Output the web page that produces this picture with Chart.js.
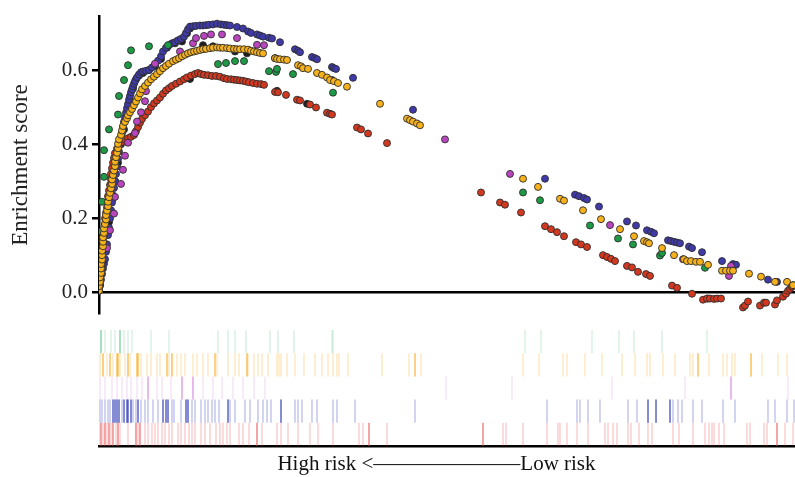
<!DOCTYPE html>
<html>
<head>
<meta charset="utf-8">
<script src="https://cdn.jsdelivr.net/npm/chart.js@4.4.1/dist/chart.umd.min.js"></script>
<style>
  html, body { margin: 0; padding: 0; background: #fff; }
  #wrap { position: relative; width: 795px; height: 477px; overflow: hidden; }
  #es { position: absolute; left: 0; top: 0; }
  #rug { position: absolute; left: 0; top: 315px; }
</style>
</head>
<body>
<div id="wrap">
  <canvas id="es" width="795" height="330"></canvas>
  <canvas id="rug" width="795" height="162"></canvas>
</div>
<script>
// rank position (0 = high risk end) and enrichment score
const greenPts = [[0,0.005],[2,0.083],[2,0.165],[3,0.245],[5,0.312],[5,0.384],[10,0.44],[19,0.48],[20,0.53],[25,0.573],[29,0.613],[32,0.653],[50,0.664],[69,0.667],
  [119,0.616],[127,0.619],[136,0.624],[145,0.624],[170,0.597],[177,0.595],[178,0.603],[194,0.589],[234,0.539],
  [424,0.27],[441,0.249],[491,0.181],[519,0.146],[534,0.13],[561,0.1],[563,0.107],[606,0.067],[694,0.02]];

const purplePts = [[8,0.12],[11,0.168],[15,0.213],[16,0.258],[22,0.293],[24,0.331],[26,0.369],[29,0.404],[36,0.43],[38,0.461],[42,0.486],[46,0.516],[47,0.543],[56,0.617],
  [81,0.65],[94,0.672],[97,0.686],[105,0.692],[112,0.696],[123,0.696],[138,0.686],[158,0.668],[165,0.667],
  [346,0.413],[411,0.32],[511,0.182],[584,0.09],[632,0.072],[630,0.045]];

const bluePts = [[0,0.005],[1,0.02],[2,0.035],[3,0.05],[4,0.065],[5,0.078],[6,0.09],[7,0.11],[8,0.13],[9,0.155],[10,0.175],[11,0.2],[12,0.222],[13,0.243],
  [14,0.262],[15,0.282],[16,0.3],[17,0.32],[18,0.34],[19,0.36],[20,0.38],[21,0.4],[22,0.415],[23,0.43],[24,0.445],[25,0.46],[26,0.472],[27,0.485],
  [28,0.497],[29,0.508],[30,0.52],[31,0.53],[32,0.54],[33,0.548],[34,0.556],[35,0.563],[36,0.57],[38,0.58],[40,0.588],[42,0.594],[44,0.596],[47,0.598],
  [50,0.6],[53,0.607],[56,0.615],[59,0.625],[62,0.637],[64,0.65],[67,0.66],[70,0.667],[73,0.672],[76,0.675],[79,0.68],[82,0.684],[85,0.69],[87,0.7],
  [89,0.71],[91,0.717],[94,0.718],[97,0.719],[101,0.72],[104,0.72],[107,0.721],[110,0.722],[114,0.723],[118,0.725],[122,0.723],[125,0.722],[128,0.721],
  [131,0.72],[138,0.716],[144,0.712],[149,0.704],[152,0.7],[158,0.696],[161,0.693],[164,0.69],[170,0.687],[173,0.685],[181,0.675],[196,0.656],
  [199,0.652],[201,0.648],[213,0.635],[216,0.632],[218,0.629],[233,0.608],[235,0.605],[237,0.603],[254,0.579],[314,0.493],
  [446,0.307],[476,0.264],[480,0.26],[485,0.255],[488,0.251],[500,0.232],[528,0.192],[537,0.181],[548,0.168],[552,0.164],[555,0.16],
  [569,0.141],[572,0.139],[575,0.137],[578,0.135],[581,0.133],[590,0.124],[593,0.12],[603,0.109],[623,0.085],[634,0.077],[637,0.075],
  [669,0.035],[678,0.029],[694,0.019]];

const orangePts = [[0,0.005],[0,0.017],[1,0.029],[1,0.041],[2,0.053],[2,0.065],[2,0.077],[3,0.089],[3,0.101],[3,0.113],[4,0.125],[4,0.137],[4,0.149],
  [5,0.161],[5,0.173],[6,0.185],[7,0.197],[7,0.209],[8,0.221],[9,0.233],[9,0.245],[10,0.257],[11,0.269],[12,0.281],[13,0.293],[13,0.305],[14,0.317],
  [15,0.329],[16,0.341],[16,0.353],[17,0.365],[18,0.377],[19,0.389],[19,0.401],[20,0.413],[22,0.425],[23,0.437],[24,0.449],[26,0.46],[28,0.47],
  [29,0.478],[31,0.486],[33,0.495],[35,0.505],[37,0.515],[39,0.526],[41,0.537],[43,0.548],[46,0.557],[49,0.566],[52,0.575],[55,0.582],[58,0.589],
  [61,0.597],[64,0.605],[67,0.611],[70,0.617],[74,0.624],[77,0.628],[80,0.632],[83,0.637],[86,0.641],[89,0.645],[92,0.648],[95,0.65],[98,0.652],
  [101,0.654],[104,0.656],[107,0.657],[111,0.659],[114,0.66],[118,0.661],[121,0.66],[124,0.66],[128,0.659],[131,0.658],[135,0.657],[138,0.656],
  [141,0.656],[145,0.656],[149,0.655],[152,0.652],[155,0.65],[158,0.648],[161,0.646],[164,0.645],[176,0.632],[178,0.63],[181,0.629],[185,0.628],
  [188,0.627],[199,0.613],[202,0.61],[204,0.605],[209,0.603],[218,0.592],[223,0.587],[228,0.58],[231,0.573],[235,0.57],[239,0.565],[248,0.555],
  [281,0.509],[308,0.469],[311,0.465],[314,0.461],[318,0.456],[321,0.451],[424,0.307],[439,0.285],[461,0.253],[465,0.248],[484,0.222],[502,0.198],
  [521,0.171],[535,0.152],[545,0.139],[548,0.136],[550,0.133],[563,0.12],[575,0.101],[585,0.09],[588,0.085],[592,0.085],[597,0.083],[601,0.083],
  [609,0.075],[623,0.059],[627,0.059],[631,0.059],[634,0.059],[650,0.051],[662,0.043],[676,0.029],[688,0.029],[694,0.02]];

const redPts = [[0,0.005],[1,0.02],[1,0.035],[2,0.05],[2,0.065],[3,0.08],[3,0.095],[3,0.11],[4,0.125],[4,0.14],[5,0.155],[5,0.17],[6,0.185],[6,0.2],
  [7,0.215],[8,0.23],[8,0.245],[9,0.26],[10,0.275],[11,0.29],[12,0.305],[12,0.32],[13,0.335],[14,0.35],[15,0.363],[16,0.376],[18,0.388],[20,0.398],
  [23,0.406],[26,0.412],[29,0.416],[32,0.42],[35,0.425],[37,0.435],[39,0.446],[41,0.458],[43,0.468],[46,0.478],[49,0.488],[52,0.5],[55,0.51],
  [58,0.518],[61,0.526],[64,0.536],[67,0.545],[70,0.551],[73,0.557],[77,0.563],[81,0.569],[85,0.575],[88,0.58],[92,0.585],[96,0.589],[99,0.592],
  [102,0.589],[105,0.587],[109,0.586],[113,0.584],[117,0.584],[121,0.582],[125,0.578],[128,0.576],[132,0.575],[135,0.574],[138,0.573],[141,0.572],
  [144,0.571],[147,0.569],[150,0.567],[154,0.565],[158,0.563],[162,0.562],[165,0.56],[176,0.541],[179,0.54],[187,0.533],[198,0.52],[201,0.518],
  [211,0.507],[217,0.499],[228,0.485],[231,0.482],[233,0.48],[258,0.445],[262,0.44],[269,0.429],[288,0.403],[382,0.27],[401,0.243],[406,0.237],
  [422,0.216],[446,0.179],[452,0.171],[458,0.163],[465,0.152],[477,0.136],[482,0.13],[488,0.123],[504,0.101],[508,0.096],[512,0.091],[516,0.085],
  [528,0.072],[533,0.068],[539,0.056],[547,0.05],[551,0.045],[573,0.019],[578,0.013],[593,-0.003],[604,-0.019],[608,-0.016],[611,-0.016],
  [615,-0.017],[618,-0.016],[622,-0.016],[644,-0.04],[646,-0.035],[649,-0.024],[661,-0.035],[665,-0.027],[667,-0.027],[676,-0.032],[678,-0.021],
  [684,-0.011],[687,-0.003],[689,0.005],[691,0.01],[693,0.016]];

const blackPts = [[1,0.02],[4,0.08],[7,0.13],[10,0.19],[13,0.25],[16,0.3],[19,0.35],[22,0.4],[25,0.44],[28,0.48],[31,0.52],[34,0.55],[37,0.575],
  [40,0.585],[44,0.592],[50,0.6],[56,0.61],[62,0.63],[68,0.66],[76,0.672],[83,0.677],[88,0.699],[91,0.712],[91,0.576],[104,0.667],[114,0.664],
  [136,0.65],[148,0.645],[176,0.632],[178,0.544],[208,0.509],[233,0.573],[609,-0.016]];

// gene positions in the bar code rows (light hits, then strong hits)
const greenHits = [2,6,12,16,21,25,29,33,52,70,119,129,136,147,171,179,195,233,234,426,442,493,520,535,563,608];
const greenStrong = [2,21];
const orangeHits = [1,4,8,11,14,18,19,21,26,29,31,38,39,42,48,52,58,61,68,70,73,78,82,86,94,98,104,109,116,118,129,136,140,148,149,155,159,163,
  169,178,180,182,188,196,205,216,223,229,234,238,240,249,283,310,316,322,424,440,464,468,486,503,523,536,548,551,564,576,591,594,599,610,624,
  628,633,636,652,663,679,688];
const orangeStrong = [4,11,18,19,29,38,39,68,73,116,148,316,599,652];
const purpleHits = [1,6,13,18,23,28,32,38,43,49,58,63,72,83,94,104,114,123,134,144,155,166,347,413,513,586,632,689];
const purpleStrong = [49,83,94,632];
const blueHits = [1,3,6,9,11,14,16,18,20,23,25,28,29,32,34,37,39,42,46,49,54,59,64,67,69,73,75,82,87,89,93,96,102,106,109,113,116,120,129,131,
  136,146,151,159,164,168,172,182,196,199,203,213,218,234,238,256,316,448,478,481,489,501,529,538,549,557,571,574,579,583,594,603,624,636,669,
  676,688,695];
const blueStrong = [14,16,18,20,25,28,29,32,39,64,67,69,87,89,129,182,549,557,571];
const redHits = [0,2,4,6,8,10,12,14,17,19,21,29,37,39,41,46,49,53,56,59,63,66,70,73,79,82,86,90,93,96,102,106,111,117,121,124,128,131,140,144,
  150,158,163,178,182,189,199,211,219,234,260,264,270,288,384,404,407,424,448,459,461,468,478,489,506,509,514,518,529,532,540,549,553,574,580,
  594,606,610,613,615,620,625,648,651,665,668,678,686,694];
const redStrong = [2,6,10,14,19,37,41,158,270,384,678];

const yTicks = [0, 0.2, 0.4, 0.6];
const rankMax = 696;

const serif = 'Liberation Serif';
const toXY = pts => pts.map(([x, y]) => ({ x, y }));

function dots(pts, color, order) {
    return {
        data: toXY(pts),
        backgroundColor: color,
        borderColor: 'rgba(45,45,45,0.9)',
        borderWidth: 1,
        pointRadius: 3.5,
        order
    };
}

new Chart(document.getElementById('es'), {
    type: 'scatter',
    data: {
        datasets: [
            dots(orangePts, '#f7b21b', 0),
            dots(greenPts, '#1d9a45', 1),
            dots(purplePts, '#b946bf', 2),
            dots(redPts, '#d2381f', 3),
            dots(bluePts, '#3f3aa8', 4),
            dots(blackPts, '#1e1e1e', 5)
        ]
    },
    options: {
        responsive: false,
        animation: false,
        events: [],
        layout: { autoPadding: false, padding: { top: 15, bottom: 15, left: 0, right: 0 } },
        plugins: { legend: { display: false }, tooltip: { enabled: false } },
        scales: {
            x: { type: 'linear', min: 0, max: rankMax, display: false },
            y: {
                min: -0.056,
                max: 0.744,
                afterBuildTicks: scale => { scale.ticks = yTicks.map(v => ({ value: v })); },
                afterFit: scale => { scale.width = 99; },
                border: { display: true, color: '#000', width: 2.5 },
                grid: {
                    color: ctx => (ctx.tick && ctx.tick.value === 0 ? '#000' : 'rgba(0,0,0,0)'),
                    tickColor: '#000',
                    lineWidth: 2.5,
                    tickLength: 7
                },
                ticks: {
                    color: '#222',
                    padding: 4,
                    font: { family: serif, size: 21 },
                    callback: v => v.toFixed(1)
                },
                title: {
                    display: true,
                    text: 'Enrichment score',
                    color: '#222',
                    font: { family: serif, size: 23 },
                    padding: { top: 7, bottom: 0 }
                }
            }
        }
    }
});

function ticksRow(hits, row, color, alpha) {
    return {
        data: hits.map(x => ({ x, y: row })),
        pointStyle: 'line',
        rotation: 90,
        pointRadius: 11.6,
        borderWidth: 1.3,
        borderColor: `rgba(${color},${alpha})`,
        backgroundColor: `rgba(${color},${alpha})`
    };
}

new Chart(document.getElementById('rug'), {
    type: 'scatter',
    data: {
        datasets: [
            ticksRow(greenHits, 4.5, '60,185,115', 0.22),
            ticksRow(greenStrong, 4.5, '60,185,115', 0.55),
            ticksRow(orangeHits, 3.5, '247,168,30', 0.3),
            ticksRow(orangeStrong, 3.5, '247,168,30', 0.65),
            ticksRow(purpleHits, 2.5, '205,100,210', 0.2),
            ticksRow(purpleStrong, 2.5, '205,100,210', 0.55),
            ticksRow(blueHits, 1.5, '55,65,195', 0.35),
            ticksRow(blueStrong, 1.5, '40,50,170', 0.7),
            ticksRow(redHits, 0.5, '232,70,70', 0.3),
            ticksRow(redStrong, 0.5, '232,70,70', 0.55)
        ]
    },
    options: {
        responsive: false,
        animation: false,
        events: [],
        layout: { autoPadding: false, padding: { top: 15, left: 99, right: 0, bottom: 0 } },
        plugins: { legend: { display: false }, tooltip: { enabled: false } },
        scales: {
            x: {
                type: 'linear',
                min: 0,
                max: rankMax,
                afterFit: scale => { scale.height = 31; },
                border: { display: true, color: '#000', width: 2.5 },
                grid: { display: false },
                ticks: { display: false },
                title: {
                    display: true,
                    text: 'High risk <\u2014\u2014\u2014\u2014\u2014\u2014\u2014Low risk\u2002\u2002',
                    color: '#111',
                    font: { family: serif, size: 21 },
                    padding: { top: 0, bottom: 0 }
                }
            },
            y: { min: 0, max: 5, display: false }
        }
    }
});
</script>
</body>
</html>
